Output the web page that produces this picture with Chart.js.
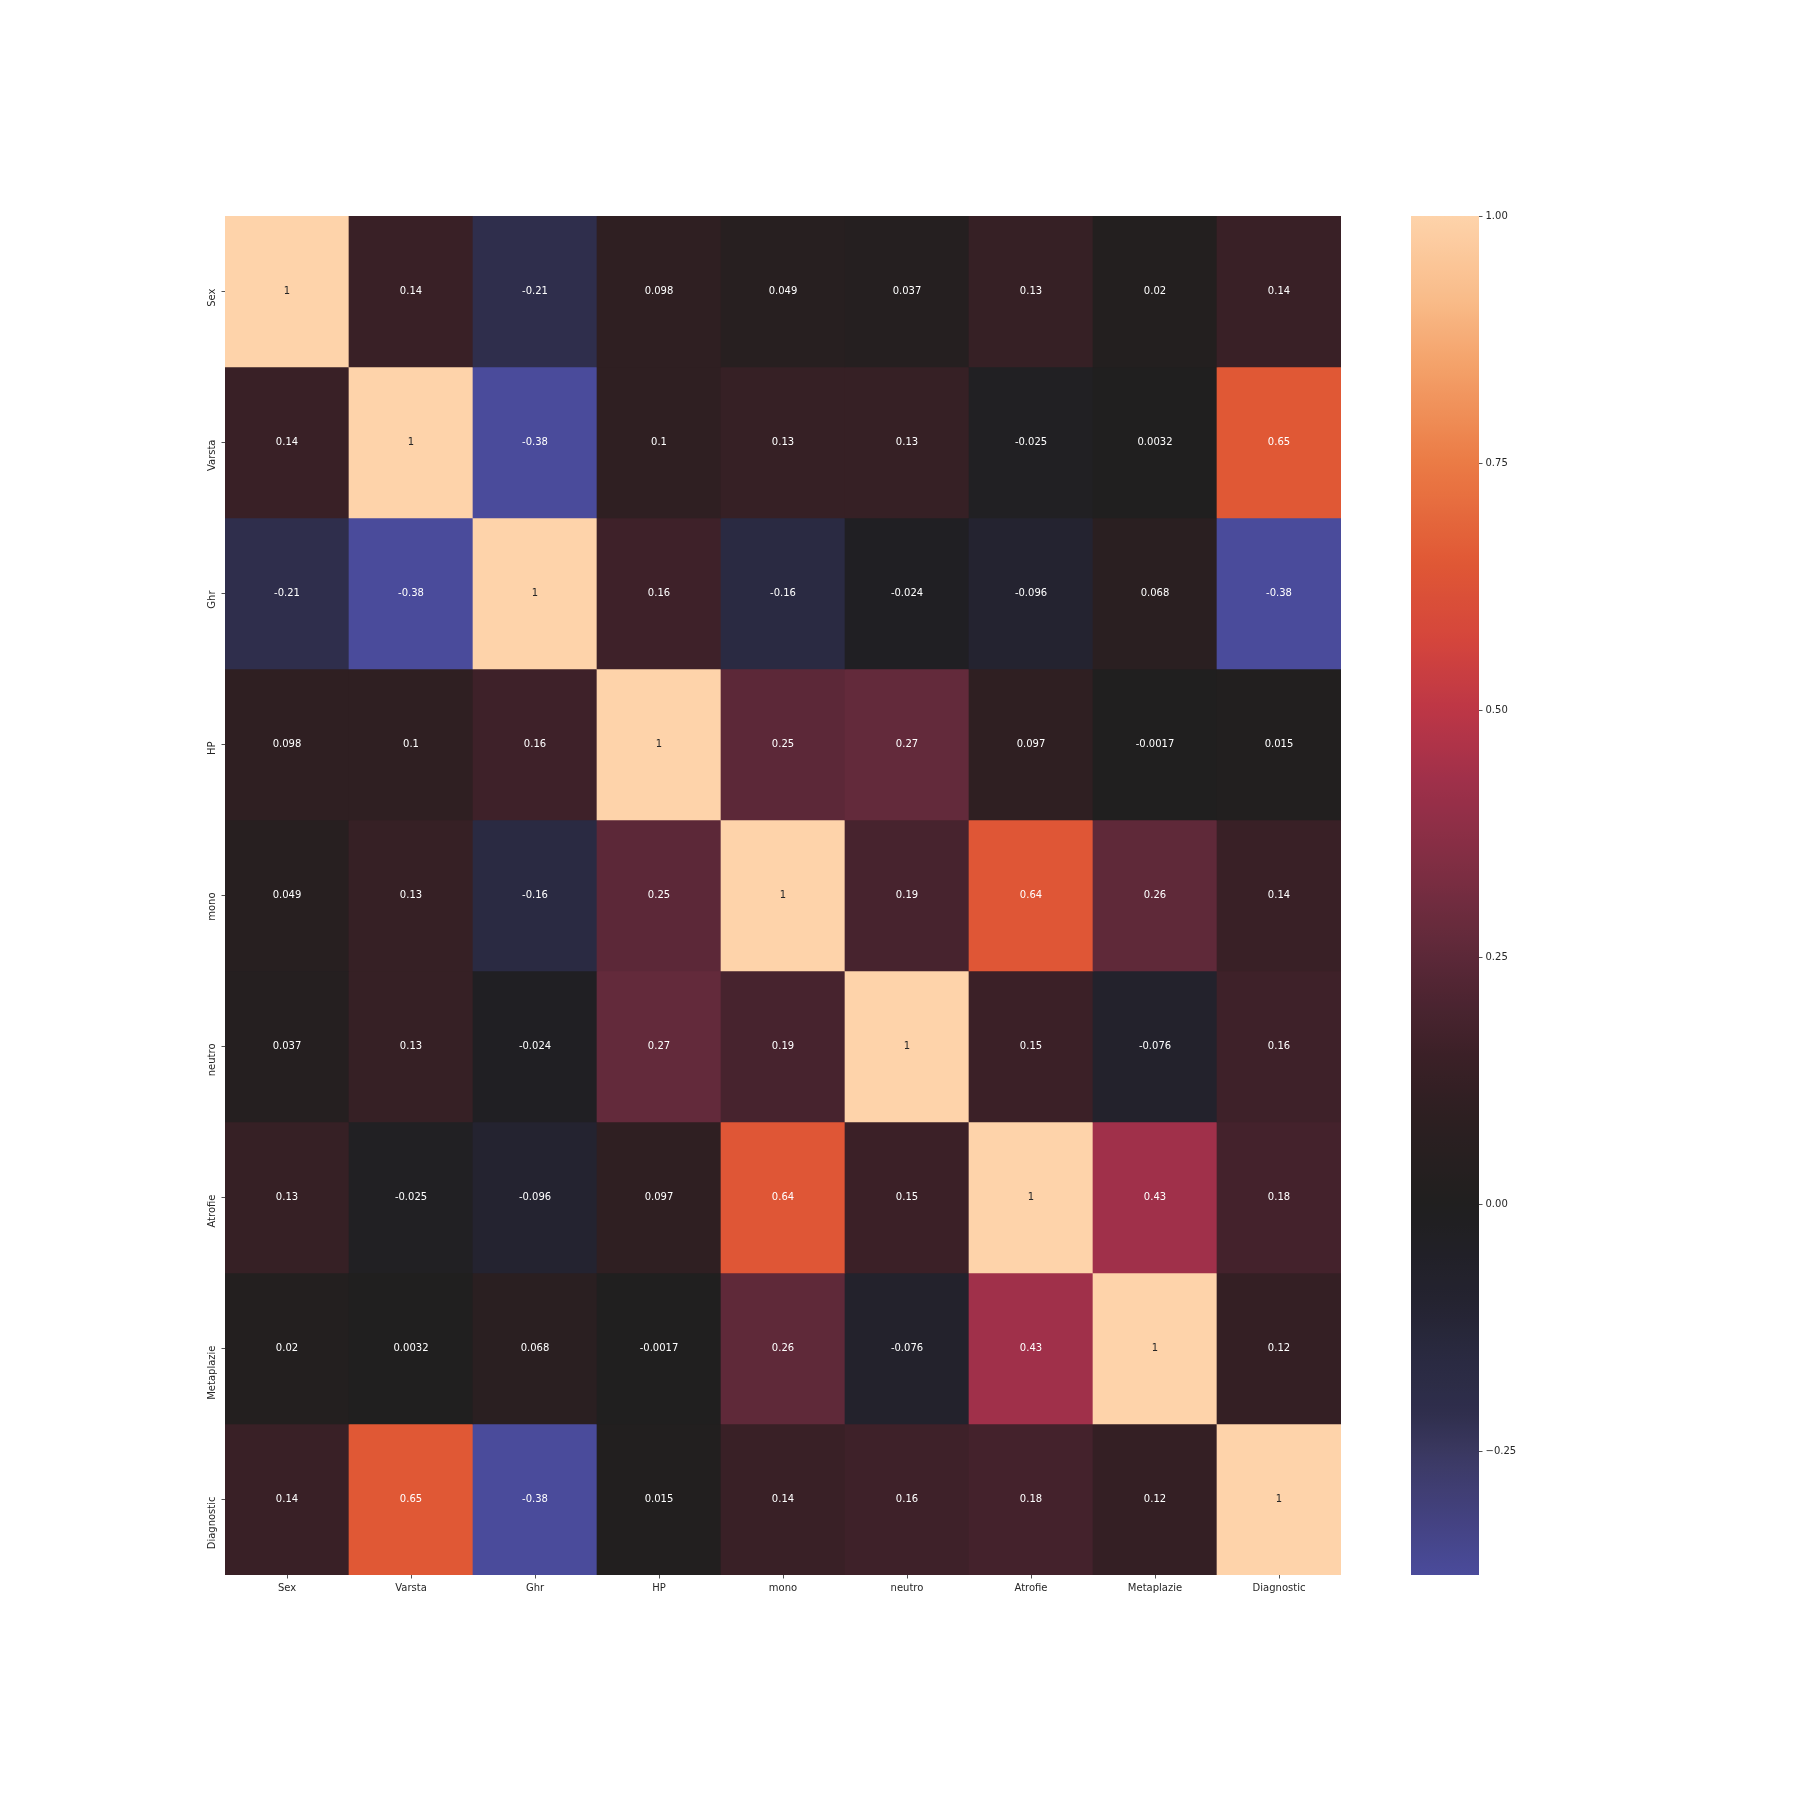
<!DOCTYPE html>
<html>
<head>
<meta charset="utf-8">
<script src="https://cdn.jsdelivr.net/npm/chart.js@4.4.1/dist/chart.umd.min.js"></script>
<style>
  html, body { margin: 0; padding: 0; background: #ffffff; }
  #wrap { position: relative; width: 1800px; height: 1800px; background: #ffffff; }
  #main { position: absolute; left: 0; top: 0; }
  #cbar { position: absolute; left: 1300px; top: 0; }
</style>
</head>
<body>
<div id="wrap">
  <canvas id="main" width="1800" height="1800"></canvas>
  <canvas id="cbar" width="300" height="1800"></canvas>
</div>
<script>
// ---------- DATA ----------
const variables = ["Sex", "Varsta", "Ghr", "HP", "mono", "neutro", "Atrofie", "Metaplazie", "Diagnostic"];

const rowSex        = [1, 0.14, -0.21, 0.098, 0.049, 0.037, 0.13, 0.02, 0.14];
const rowVarsta     = [0.14, 1, -0.38, 0.1, 0.13, 0.13, -0.025, 0.0032, 0.65];
const rowGhr        = [-0.21, -0.38, 1, 0.16, -0.16, -0.024, -0.096, 0.068, -0.38];
const rowHP         = [0.098, 0.1, 0.16, 1, 0.25, 0.27, 0.097, -0.0017, 0.015];
const rowMono       = [0.049, 0.13, -0.16, 0.25, 1, 0.19, 0.64, 0.26, 0.14];
const rowNeutro     = [0.037, 0.13, -0.024, 0.27, 0.19, 1, 0.15, -0.076, 0.16];
const rowAtrofie    = [0.13, -0.025, -0.096, 0.097, 0.64, 0.15, 1, 0.43, 0.18];
const rowMetaplazie = [0.02, 0.0032, 0.068, -0.0017, 0.26, -0.076, 0.43, 1, 0.12];
const rowDiagnostic = [0.14, 0.65, -0.38, 0.015, 0.14, 0.16, 0.18, 0.12, 1];

const matrix = [rowSex, rowVarsta, rowGhr, rowHP, rowMono, rowNeutro, rowAtrofie, rowMetaplazie, rowDiagnostic];

const colorMin = -0.3755;
const colorMax = 1;
const colorbarTicks = [-0.25, 0, 0.25, 0.5, 0.75, 1];

// ---------- COLOUR MAP (icefire, centred at 0) ----------
const cmapStops = [
  [-0.3755, [74, 75, 155]],
  [-0.30, [65, 63, 120]],
  [-0.25, [58, 56, 96]],
  [-0.21, [47, 46, 76]],
  [-0.16, [42, 42, 66]],
  [-0.096, [36, 35, 48]],
  [-0.05, [33, 32, 39]],
  [0.0, [32, 31, 31]],
  [0.05, [39, 31, 32]],
  [0.10, [47, 31, 34]],
  [0.15, [59, 32, 39]],
  [0.20, [74, 36, 48]],
  [0.27, [99, 42, 59]],
  [0.35, [130, 46, 68]],
  [0.43, [160, 48, 74]],
  [0.50, [189, 54, 70]],
  [0.57, [212, 69, 60]],
  [0.65, [224, 88, 53]],
  [0.75, [235, 123, 69]],
  [0.85, [244, 162, 106]],
  [0.92, [249, 189, 139]],
  [1.0, [254, 211, 170]]
];
function rgbFor(v) {
  if (v <= cmapStops[0][0]) return cmapStops[0][1];
  for (let i = 1; i < cmapStops.length; i++) {
    const [v1, c1] = cmapStops[i];
    const [v0, c0] = cmapStops[i - 1];
    if (v <= v1) {
      const t = (v - v0) / (v1 - v0);
      return c0.map((c, k) => Math.round(c + (c1[k] - c) * t));
    }
  }
  return cmapStops[cmapStops.length - 1][1];
}
function colorFor(v) {
  const c = rgbFor(v);
  return `rgb(${c[0]},${c[1]},${c[2]})`;
}
function luminance(c) {
  const lin = c.map(x => { x /= 255; return x <= 0.03928 ? x / 12.92 : Math.pow((x + 0.055) / 1.055, 2.4); });
  return 0.2126 * lin[0] + 0.7152 * lin[1] + 0.0722 * lin[2];
}
function fmt2g(v) {
  return parseFloat(v.toPrecision(2)).toString();
}

const FONT = "'DejaVu Sans', 'Liberation Sans', sans-serif";
const TEXT = '#262626';

// ---------- MAIN HEATMAP ----------
const datasets = matrix.map((row, r) => ({
  label: variables[r],
  data: row.map(() => [r, r + 1]),
  values: row,
  backgroundColor: row.map(v => colorFor(v)),
  borderWidth: 0,
  borderSkipped: false,
  barPercentage: 1,
  categoryPercentage: 1,
  grouped: false
}));

const annotatePlugin = {
  id: 'annotate',
  afterDatasetsDraw(chart) {
    const ctx = chart.ctx;
    ctx.save();
    ctx.font = `10px ${FONT}`;
    ctx.textAlign = 'center';
    ctx.textBaseline = 'middle';
    chart.data.datasets.forEach((ds, di) => {
      const meta = chart.getDatasetMeta(di);
      meta.data.forEach((el, i) => {
        const v = ds.values[i];
        const lum = luminance(rgbFor(v));
        ctx.fillStyle = lum > 0.408 ? TEXT : '#ffffff';
        const cy = (el.y + el.base) / 2;
        ctx.fillText(fmt2g(v), el.x, cy);
      });
    });
    ctx.restore();
  }
};

new Chart(document.getElementById('main'), {
  type: 'bar',
  data: { labels: variables, datasets },
  options: {
    responsive: false,
    animation: false,
    devicePixelRatio: 1,
    layout: { padding: { left: 165, right: 459, top: 216, bottom: 185 } },
    plugins: { legend: { display: false }, tooltip: { enabled: false } },
    scales: {
      x: {
        type: 'category',
        position: 'bottom',
        offset: true,
        border: { display: false },
        grid: { display: true, offset: false, drawOnChartArea: false, drawTicks: true, tickLength: 3.5, tickColor: TEXT, tickWidth: 0.8 },
        ticks: { color: TEXT, font: { family: FONT, size: 10 }, padding: 3.5, maxRotation: 0, minRotation: 0, autoSkip: false },
        afterFit(scale) { scale.height = 40; }
      },
      y: {
        type: 'linear',
        min: 0,
        max: variables.length,
        reverse: true,
        border: { display: false },
        grid: { display: true, drawOnChartArea: false, drawTicks: true, tickLength: 3.5, tickColor: TEXT, tickWidth: 0.8 },
        ticks: {
          color: TEXT, font: { family: FONT, size: 10 }, padding: 9, minRotation: 90, maxRotation: 90, autoSkip: false,
          labelOffset: -3,
          callback: (value) => variables[Math.floor(value)]
        },
        afterBuildTicks(scale) { scale.ticks = variables.map((_, i) => ({ value: i + 0.5 })); },
        afterFit(scale) { scale.width = 60; }
      }
    }
  },
  plugins: [annotatePlugin]
});

// ---------- COLOUR BAR ----------
new Chart(document.getElementById('cbar'), {
  type: 'bar',
  data: {
    labels: [''],
    datasets: [{
      data: [[colorMin, colorMax]],
      borderWidth: 0,
      borderSkipped: false,
      barPercentage: 1,
      categoryPercentage: 1,
      backgroundColor: (ctx) => {
        const chart = ctx.chart;
        const ys = chart.scales.y;
        if (!ys || !chart.chartArea) return colorFor(0);
        const y0 = ys.getPixelForValue(colorMin);
        const y1 = ys.getPixelForValue(colorMax);
        const g = chart.ctx.createLinearGradient(0, y0, 0, y1);
        const n = 128;
        for (let i = 0; i <= n; i++) {
          const t = i / n;
          g.addColorStop(t, colorFor(colorMin + t * (colorMax - colorMin)));
        }
        return g;
      }
    }]
  },
  options: {
    responsive: false,
    animation: false,
    devicePixelRatio: 1,
    layout: { padding: { left: 111, right: 61, top: 216, bottom: 225 } },
    plugins: { legend: { display: false }, tooltip: { enabled: false } },
    scales: {
      x: { display: false },
      y: {
        type: 'linear',
        position: 'right',
        min: colorMin,
        max: colorMax,
        border: { display: false },
        grid: { display: true, drawOnChartArea: false, drawTicks: true, tickLength: 3.5, tickColor: TEXT, tickWidth: 0.8 },
        ticks: {
          color: TEXT, font: { family: FONT, size: 10 }, padding: 3, autoSkip: false,
          callback: (v) => (v < 0 ? '\u2212' : '') + Math.abs(v).toFixed(2)
        },
        afterBuildTicks(scale) { scale.ticks = colorbarTicks.map(v => ({ value: v })); },
        afterFit(scale) { scale.width = 60; }
      }
    }
  }
});
</script>
</body>
</html>
